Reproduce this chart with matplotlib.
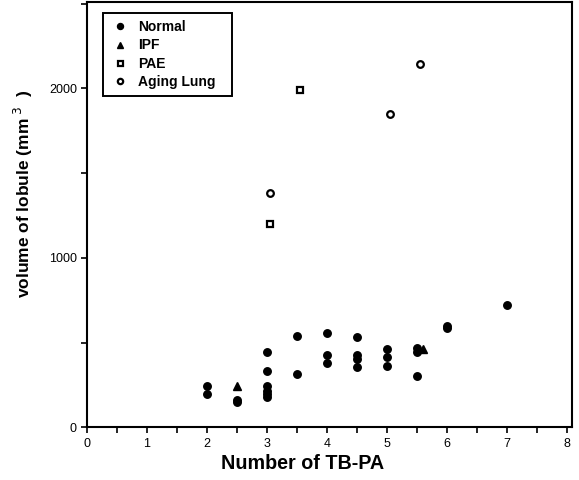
import matplotlib
matplotlib.use("Agg")
import matplotlib.pyplot as plt
from matplotlib.ticker import MultipleLocator, FixedLocator
from matplotlib.patches import Rectangle

plt.rcParams['font.family'] = ['Liberation Sans', 'DejaVu Sans']

normal_x = [2, 2, 2.5, 2.5, 3, 3, 3, 3, 3, 3, 3.5, 3.5, 4, 4, 4, 4.5, 4.5, 4.5, 4.5,
            5, 5, 5, 5.5, 5.5, 5.5, 6, 6, 7]
normal_y = [245, 195, 152, 160, 444, 331, 241, 217, 197, 178, 540, 316, 556, 428, 381,
            531, 428, 404, 355, 460, 412, 363, 467, 444, 300, 600, 584, 720]
ipf_x = [2.5, 5.6]
ipf_y = [241, 465]
pae_x = [3.05, 3.55]
pae_y = [1201, 1990]
aging_x = [3.05, 5.05, 5.55]
aging_y = [1385, 1852, 2144]

x_ticks = [0, 1, 2, 3, 4, 5, 6, 7, 8]
y_ticks = [0, 1000, 2000]

fig = plt.figure(figsize=(5.79, 4.80), dpi=100)
ax = fig.add_axes([0.1497, 0.1098, 0.8377, 0.886])

ax.plot(normal_x, normal_y, 'o', color='black', markersize=5.4, linestyle='none', label='Normal')
ax.plot(ipf_x, ipf_y, '^', color='black', markersize=5.5, linestyle='none', label='IPF')
ax.plot(pae_x, pae_y, 's', markerfacecolor='white', markeredgecolor='black',
        markeredgewidth=1.6, markersize=4.5, linestyle='none', label='PAE')
ax.plot(aging_x, aging_y, 'o', markerfacecolor='white', markeredgecolor='black',
        markeredgewidth=1.6, markersize=4.8, linestyle='none', label='Aging Lung')

ax.set_xlim(0, 8.08)
ax.set_ylim(0, 2510)
ax.xaxis.set_major_locator(FixedLocator(x_ticks))
ax.xaxis.set_minor_locator(MultipleLocator(0.5))
ax.yaxis.set_major_locator(FixedLocator(y_ticks))
ax.yaxis.set_minor_locator(MultipleLocator(500))
ax.tick_params(axis='both', which='both', direction='out', length=4, width=1.2, labelsize=9)
ax.tick_params(axis='y', which='major', pad=3)

for s in ax.spines.values():
    s.set_linewidth(1.5)

ax.set_xlabel('Number of TB-PA', fontsize=14.2, fontweight='bold')
ax.xaxis.set_label_coords(0.446, -0.085, transform=ax.transAxes)
ax.xaxis.label.set_va('center')
ax.set_ylabel('volume of lobule (mm$^{\\ 3}$  )', fontsize=12.5, fontweight='bold')
ax.yaxis.set_label_coords(-0.131, 0.55, transform=ax.transAxes)
ax.yaxis.label.set_va('center')

leg = ax.legend(loc='upper left', bbox_to_anchor=(0.034, 0.974), frameon=False,
                prop={'weight': 'bold', 'size': 10}, handletextpad=0.58,
                borderpad=0.5, labelspacing=0.32, handlelength=1.45, borderaxespad=0,
                markerscale=0.8)
ax.add_patch(Rectangle((0.034, 0.974 - 0.195), 0.266, 0.195, transform=ax.transAxes,
                       fill=False, edgecolor='black', linewidth=1.4, zorder=5))

fig.savefig('out.png', dpi=100)
